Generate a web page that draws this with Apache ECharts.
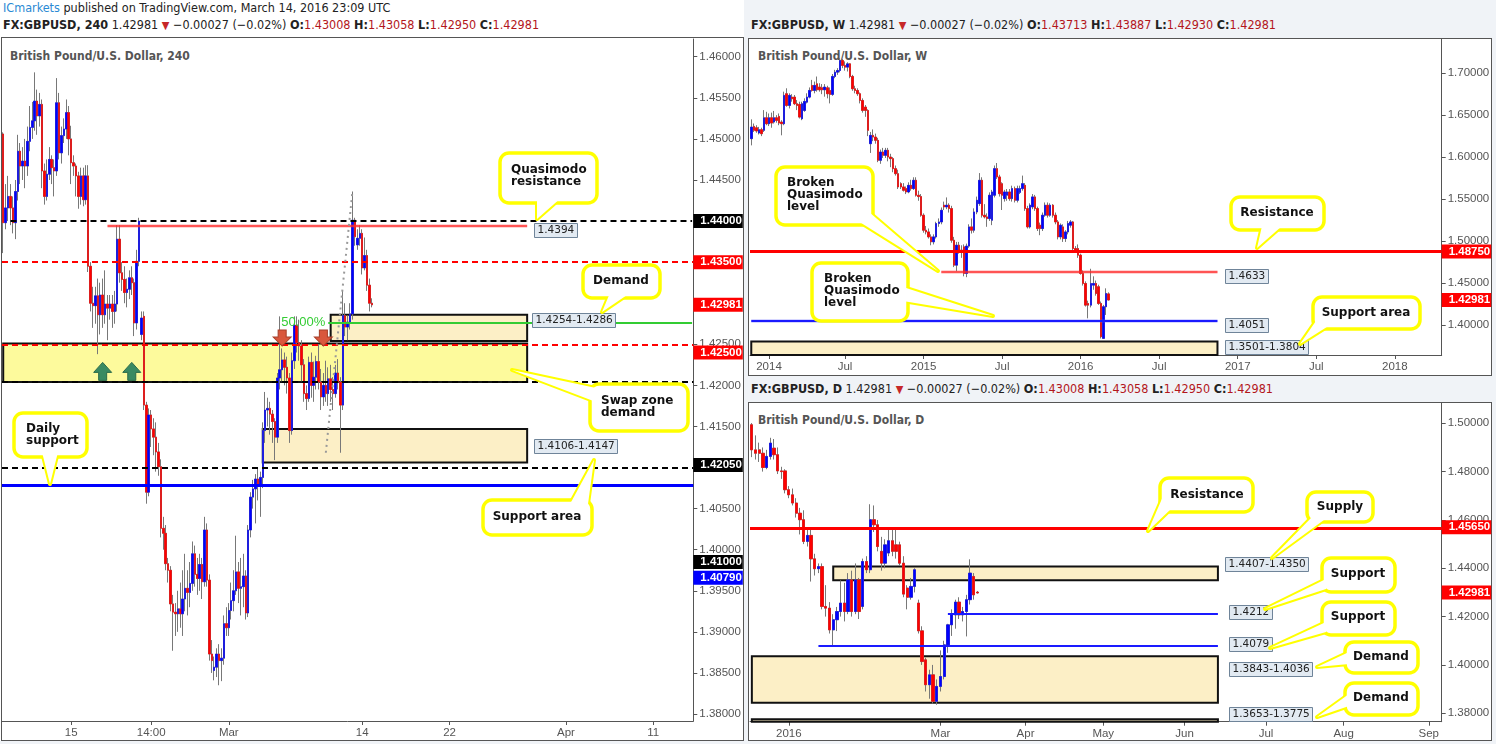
<!DOCTYPE html>
<html><head><meta charset="utf-8">
<script src="https://cdn.jsdelivr.net/npm/echarts@6/dist/echarts.min.js"></script>
<style>
html,body{margin:0;padding:0;background:#f0f3f7;width:1496px;height:744px;overflow:hidden;}
.abs{position:absolute;box-sizing:border-box;}
.hdr{position:absolute;white-space:nowrap;font-family:'Liberation Sans Narrow','DejaVu Sans Condensed',sans-serif;font-size:12.5px;color:#222;}
.hdr b{font-weight:bold;}
.v{color:#b3161b;}
.dn{color:#c62828;font-size:11px;}
.ttl{position:absolute;white-space:nowrap;font-family:'DejaVu Sans Condensed','DejaVu Sans',sans-serif;font-weight:bold;font-size:12px;color:#555;line-height:16px;}
#c{position:absolute;left:0;top:0;width:1496px;height:744px;}
</style>
</head><body>
<div class="abs" style="left:0;top:0;width:744px;height:741px;background:#fff;"></div>
<div class="abs" style="left:1px;top:37px;width:743px;height:704px;border:1px solid #555;"></div>
<div class="abs" style="left:748px;top:38px;width:744px;height:338px;background:#fff;border:1px solid #555;"></div>
<div class="abs" style="left:748px;top:402px;width:744px;height:339px;background:#fff;border:1px solid #555;"></div>

<div class="hdr" style="left:3px;top:0px;line-height:15px;"><span style="color:#2a8ad4">ICmarkets</span> published on TradingView.com, March 14, 2016 23:09 UTC</div>
<div class="hdr" style="left:3px;top:17px;line-height:16px;"><b>FX:GBPUSD, 240</b> 1.42981 <span class="dn">▼</span> −0.00027 (−0.02%) <b>O:</b><span class="v">1.43008</span> <b>H:</b><span class="v">1.43058</span> <b>L:</b><span class="v">1.42950</span> <b>C:</b><span class="v">1.42981</span></div>
<div class="hdr" style="left:751px;top:17px;line-height:16px;"><b>FX:GBPUSD, W</b> 1.42981 <span class="dn">▼</span> −0.00027 (−0.02%) <b>O:</b><span class="v">1.43713</span> <b>H:</b><span class="v">1.43887</span> <b>L:</b><span class="v">1.42930</span> <b>C:</b><span class="v">1.42981</span></div>
<div class="hdr" style="left:751px;top:381px;line-height:16px;"><b>FX:GBPUSD, D</b> 1.42981 <span class="dn">▼</span> −0.00027 (−0.02%) <b>O:</b><span class="v">1.43008</span> <b>H:</b><span class="v">1.43058</span> <b>L:</b><span class="v">1.42950</span> <b>C:</b><span class="v">1.42981</span></div>
<div class="ttl" style="left:10px;top:48px;">British Pound/U.S. Dollar, 240</div>
<div class="ttl" style="left:758px;top:48px;">British Pound/U.S. Dollar, W</div>
<div class="ttl" style="left:758px;top:412px;">British Pound/U.S. Dollar, D</div>
<div id="c"></div>
<script>
// ---------------- DATA ----------------
// candles: [open, close, low, high]
const H4_CANDLES = [
[1.4506,1.4398,1.4361,1.4508],[1.4398,1.4416,1.4390,1.4445],[1.4416,1.4430,1.4400,1.4455],[1.4430,1.4416,1.4395,1.4445],
[1.4416,1.4398,1.4385,1.4430],[1.4398,1.4436,1.4378,1.4450],[1.4436,1.4485,1.4425,1.4505],[1.4485,1.4467,1.4445,1.4495],
[1.4467,1.4473,1.4450,1.4490],[1.4473,1.4467,1.4440,1.4500],[1.4467,1.4497,1.4455,1.4515],[1.4497,1.4514,1.4485,1.4540],
[1.4514,1.4522,1.4500,1.4545],[1.4522,1.4546,1.4510,1.4581],[1.4546,1.4528,1.4505,1.4560],[1.4528,1.4542,1.4515,1.4556],
[1.4542,1.4461,1.4440,1.4548],[1.4461,1.4430,1.4420,1.4470],[1.4430,1.4457,1.4425,1.4475],[1.4457,1.4475,1.4450,1.4490],
[1.4475,1.4465,1.4445,1.4480],[1.4465,1.4461,1.4430,1.4475],[1.4461,1.4544,1.4455,1.4574],[1.4544,1.4483,1.4475,1.4556],
[1.4483,1.4504,1.4470,1.4515],[1.4504,1.4512,1.4495,1.4525],[1.4512,1.4532,1.4500,1.4548],[1.4532,1.4500,1.4480,1.4540],
[1.4500,1.4471,1.4445,1.4516],[1.4471,1.4467,1.4455,1.4480],[1.4467,1.4455,1.4430,1.4470],[1.4455,1.4430,1.4415,1.4460],
[1.4430,1.4455,1.4420,1.4465],[1.4455,1.4426,1.4418,1.4465],[1.4426,1.4455,1.4420,1.4468],[1.4455,1.4345,1.4338,1.4468],
[1.4345,1.4300,1.4290,1.4350],[1.4300,1.4297,1.4270,1.4320],[1.4297,1.4309,1.4275,1.4320],[1.4309,1.4286,1.4238,1.4330],
[1.4286,1.4310,1.4262,1.4325],[1.4310,1.4286,1.4270,1.4330],[1.4286,1.4299,1.4275,1.4340],[1.4299,1.4294,1.4255,1.4310],
[1.4294,1.4299,1.4280,1.4310],[1.4299,1.4290,1.4270,1.4310],[1.4290,1.4299,1.4275,1.4315],[1.4299,1.4378,1.4290,1.4395],
[1.4378,1.4337,1.4325,1.4395],[1.4337,1.4329,1.4315,1.4350],[1.4329,1.4313,1.4300,1.4345],[1.4313,1.4317,1.4295,1.4330],
[1.4317,1.4331,1.4305,1.4340],[1.4331,1.4325,1.4310,1.4345],[1.4325,1.4276,1.4260,1.4330],[1.4276,1.4351,1.4268,1.4365],
[1.4351,1.4400,1.4345,1.4404],[1.4262,1.4282,1.4255,1.4290],[1.4284,1.4176,1.4170,1.4290],[1.4176,1.4070,1.4056,1.4180],
[1.4070,1.4164,1.4065,1.4172],[1.4164,1.4147,1.4125,1.4170],[1.4147,1.4137,1.4115,1.4160],[1.4137,1.4119,1.4095,1.4155],
[1.4119,1.4101,1.4090,1.4130],[1.4101,1.4026,1.4015,1.4110],[1.4026,1.4020,1.4000,1.4040],[1.4020,1.3983,1.3975,1.4030],
[1.3983,1.3975,1.3960,1.3990],[1.3975,1.3934,1.3925,1.3980],[1.3934,1.3924,1.3877,1.3945],[1.3924,1.3922,1.3895,1.3935],
[1.3922,1.3928,1.3900,1.3950],[1.3928,1.3922,1.3905,1.3960],[1.3922,1.3940,1.3895,1.3975],[1.3940,1.3953,1.3925,1.3995],
[1.3953,1.3948,1.3920,1.3975],[1.3948,1.3959,1.3930,1.3985],[1.3959,1.3995,1.3950,1.4010],[1.3995,1.3970,1.3955,1.4005],
[1.3970,1.3965,1.3945,1.3990],[1.3965,1.3982,1.3950,1.3995],[1.3982,1.3961,1.3940,1.3990],[1.3961,1.4024,1.3955,1.4040],
[1.4024,1.3963,1.3955,1.4032],[1.3963,1.3873,1.3865,1.3970],[1.3873,1.3865,1.3850,1.3890],[1.3853,1.3857,1.3841,1.3870],
[1.3857,1.3873,1.3845,1.3880],[1.3873,1.3865,1.3835,1.3885],[1.3865,1.3868,1.3840,1.3880],[1.3868,1.3910,1.3860,1.3920],
[1.3910,1.3905,1.3895,1.3930],[1.3905,1.3926,1.3895,1.3935],[1.3926,1.3938,1.3915,1.3960],[1.3938,1.3950,1.3925,1.3975],
[1.3950,1.3973,1.3945,1.4017],[1.3973,1.3953,1.3935,1.3985],[1.3953,1.3955,1.3920,1.3990],[1.3955,1.3968,1.3930,1.3995],
[1.3968,1.3923,1.3915,1.3975],[1.3923,1.4024,1.3918,1.4030],[1.4024,1.4064,1.4015,1.4070],[1.4064,1.4074,1.4050,1.4085],
[1.4074,1.4086,1.4032,1.4092],[1.4086,1.4078,1.4060,1.4100],[1.4078,1.4088,1.4040,1.4095],[1.4088,1.4145,1.4075,1.4155],
[1.4145,1.4170,1.4130,1.4192],[1.4170,1.4172,1.4150,1.4185],[1.4172,1.4165,1.4140,1.4180],[1.4165,1.4156,1.4130,1.4170],
[1.4156,1.4137,1.4109,1.4160],[1.4137,1.4209,1.4130,1.4215],[1.4209,1.4219,1.4195,1.4284],[1.4219,1.4231,1.4205,1.4245],
[1.4231,1.4222,1.4200,1.4240],[1.4222,1.4209,1.4190,1.4235],[1.4209,1.4145,1.4130,1.4215],[1.4145,1.4230,1.4140,1.4240],
[1.4230,1.4273,1.4220,1.4284],[1.4273,1.4252,1.4240,1.4284],[1.4252,1.4248,1.4230,1.4280],[1.4248,1.4225,1.4205,1.4255],
[1.4225,1.4190,1.4180,1.4232],[1.4190,1.4184,1.4170,1.4200],[1.4184,1.4228,1.4180,1.4235],[1.4228,1.4200,1.4185,1.4240],
[1.4200,1.4210,1.4180,1.4229],[1.4210,1.4229,1.4195,1.4236],[1.4229,1.4204,1.4195,1.4250],[1.4204,1.4186,1.4170,1.4220],
[1.4186,1.4200,1.4175,1.4215],[1.4200,1.4190,1.4180,1.4230],[1.4190,1.4208,1.4175,1.4222],[1.4208,1.4195,1.4180,1.4225],
[1.4195,1.4190,1.4170,1.4210],[1.4190,1.4215,1.4185,1.4225],[1.4215,1.4204,1.4195,1.4232],[1.4204,1.4176,1.4118,1.4210],
[1.4176,1.4285,1.4170,1.4316],[1.4285,1.4271,1.4260,1.4300],[1.4271,1.4277,1.4255,1.4285],[1.4277,1.4287,1.4268,1.4300],
[1.4287,1.4401,1.4280,1.4436],[1.4401,1.4381,1.4370,1.4404],[1.4371,1.4379,1.4365,1.4390],[1.4379,1.4385,1.4370,1.4395],
[1.4385,1.4343,1.4335,1.4390],[1.4343,1.4358,1.4340,1.4380],[1.4358,1.4322,1.4315,1.4365],[1.4322,1.4300,1.4290,1.4330],
[1.4300,1.4298,1.4295,1.4306]
];
const W_CANDLES = [
[1.6220,1.6358,1.6140,1.6450],[1.6366,1.6319,1.6300,1.6400],[1.6350,1.6311,1.6290,1.6380],[1.6287,1.6327,1.6270,1.6360],
[1.6327,1.6279,1.6250,1.6350],[1.6319,1.6469,1.6300,1.6560],[1.6469,1.6398,1.6380,1.6540],[1.6398,1.6469,1.6370,1.6520],
[1.6469,1.6406,1.6350,1.6530],[1.6418,1.6469,1.6400,1.6550],[1.6469,1.6437,1.6410,1.6500],[1.6485,1.6406,1.6380,1.6520],
[1.6418,1.6398,1.6260,1.6440],[1.6398,1.6735,1.6380,1.6780],[1.6755,1.6616,1.6600,1.6820],[1.6616,1.6735,1.6580,1.6760],
[1.6715,1.6695,1.6660,1.6750],[1.6715,1.6636,1.6620,1.6740],[1.6636,1.6616,1.6560,1.6680],[1.6628,1.6477,1.6460,1.6660],
[1.6457,1.6636,1.6440,1.6660],[1.6556,1.6663,1.6540,1.6700],[1.6655,1.6715,1.6640,1.6760],[1.6715,1.6794,1.6700,1.6830],
[1.6854,1.6794,1.6780,1.6920],[1.6794,1.6854,1.6760,1.6900],[1.6873,1.6802,1.6780,1.6960],[1.6834,1.6802,1.6780,1.6880],
[1.6826,1.6802,1.6750,1.6870],[1.6802,1.6834,1.6720,1.6870],[1.6826,1.6755,1.6700,1.6850],[1.6794,1.6747,1.6640,1.6830],
[1.6747,1.6961,1.6730,1.6990],[1.6961,1.7012,1.6940,1.7040],[1.7012,1.7032,1.6980,1.7060],[1.7032,1.7151,1.7010,1.7180],
[1.7151,1.7092,1.7060,1.7170],[1.7092,1.7072,1.7030,1.7140],[1.7072,1.7111,1.7020,1.7130],[1.7111,1.6961,1.6940,1.7120],
[1.6961,1.6814,1.6790,1.6980],[1.6814,1.6794,1.6760,1.6850],[1.6794,1.6755,1.6730,1.6820],[1.6755,1.6675,1.6640,1.6770],
[1.6675,1.6556,1.6530,1.6700],[1.6596,1.6556,1.6480,1.6620],[1.6556,1.6319,1.6250,1.6570],[1.6160,1.6259,1.6050,1.6300],
[1.6259,1.6239,1.6190,1.6330],[1.6239,1.6200,1.6160,1.6280],[1.6200,1.5962,1.5940,1.6230],[1.5962,1.6061,1.5920,1.6090],
[1.6061,1.6021,1.5990,1.6110],[1.6021,1.6081,1.5990,1.6110],[1.6081,1.6001,1.5950,1.6110],[1.6001,1.5982,1.5880,1.6040],
[1.5982,1.5863,1.5820,1.6000],[1.5863,1.5803,1.5780,1.5900],[1.5803,1.5645,1.5620,1.5850],[1.5684,1.5645,1.5620,1.5700],
[1.5645,1.5605,1.5590,1.5690],[1.5625,1.5585,1.5560,1.5650],[1.5585,1.5664,1.5570,1.5700],[1.5664,1.5625,1.5600,1.5730],
[1.5625,1.5724,1.5610,1.5760],[1.5724,1.5546,1.5530,1.5760],[1.5546,1.5530,1.5480,1.5600],[1.5530,1.5308,1.5290,1.5560],
[1.5308,1.5129,1.5100,1.5330],[1.5129,1.5109,1.5080,1.5180],[1.5109,1.5050,1.5030,1.5150],[1.5050,1.4991,1.4950,1.5080],
[1.4991,1.5050,1.4960,1.5080],[1.5050,1.5209,1.5030,1.5230],[1.5209,1.5228,1.5170,1.5270],[1.5228,1.5367,1.5200,1.5400],
[1.5427,1.5407,1.5370,1.5470],[1.5407,1.5427,1.5380,1.5520],[1.5427,1.5387,1.5340,1.5450],[1.5387,1.5010,1.4980,1.5420],
[1.5010,1.4713,1.4690,1.5050],[1.4713,1.4951,1.4640,1.4990],[1.4951,1.4892,1.4850,1.4990],[1.4892,1.4872,1.4800,1.4950],
[1.4931,1.4614,1.4580,1.4960],[1.4614,1.4940,1.4570,1.4970],[1.4940,1.5169,1.4920,1.5200],[1.5169,1.5129,1.5090,1.5270],
[1.5129,1.5347,1.5100,1.5390],[1.5347,1.5486,1.5320,1.5530],[1.5447,1.5724,1.5420,1.5810],[1.5724,1.5308,1.5280,1.5760],
[1.5308,1.5288,1.5270,1.5440],[1.5288,1.5268,1.5170,1.5330],[1.5268,1.5546,1.5240,1.5580],[1.5248,1.5585,1.5190,1.5610],
[1.5546,1.5863,1.5520,1.5900],[1.5863,1.5764,1.5740,1.5930],[1.5764,1.5565,1.5530,1.5790],[1.5684,1.5546,1.5370,1.5700],
[1.5506,1.5585,1.5470,1.5610],[1.5546,1.5585,1.5480,1.5620],[1.5585,1.5506,1.5480,1.5620],[1.5506,1.5625,1.5470,1.5660],
[1.5625,1.5486,1.5460,1.5650],[1.5486,1.5625,1.5460,1.5660],[1.5580,1.5625,1.5560,1.5660],[1.5625,1.5684,1.5600,1.5780],
[1.5664,1.5387,1.5360,1.5690],[1.5387,1.5169,1.5150,1.5420],[1.5169,1.5427,1.5150,1.5450],[1.5407,1.5526,1.5380,1.5560],
[1.5526,1.5387,1.5360,1.5550],[1.5387,1.5149,1.5120,1.5410],[1.5189,1.5149,1.5070,1.5220],[1.5149,1.5308,1.5120,1.5340],
[1.5308,1.5427,1.5290,1.5460],[1.5427,1.5308,1.5280,1.5460],[1.5308,1.5427,1.5290,1.5450],[1.5427,1.5308,1.5280,1.5440],
[1.5308,1.5228,1.5200,1.5340],[1.5228,1.5050,1.5020,1.5250],[1.5050,1.5189,1.5020,1.5210],[1.5169,1.5030,1.4990,1.5200],
[1.5030,1.5109,1.4990,1.5130],[1.5109,1.5209,1.5080,1.5240],[1.5189,1.5228,1.5160,1.5250],[1.5228,1.4911,1.4890,1.5240],
[1.4911,1.4872,1.4860,1.4940],[1.4911,1.4832,1.4800,1.4960],[1.4832,1.4614,1.4600,1.4850],[1.4614,1.4495,1.4470,1.4650],
[1.4495,1.4237,1.4220,1.4520],[1.4257,1.4237,1.4080,1.4290],[1.4237,1.4495,1.4210,1.4670],[1.4475,1.4495,1.4420,1.4580],
[1.4495,1.4376,1.4350,1.4530],[1.4456,1.4257,1.4240,1.4480],[1.4257,1.3861,1.3840,1.4280],[1.3841,1.4218,1.3835,1.4240],
[1.4218,1.4376,1.4120,1.4437],[1.4371,1.4298,1.4293,1.4389]
];
const D_CANDLES = [
[1.4994,1.4890,1.4860,1.5001],[1.4890,1.4876,1.4850,1.4950],[1.4890,1.4876,1.4840,1.4920],[1.4876,1.4817,1.4800,1.4900],
[1.4817,1.4863,1.4810,1.4890],[1.4863,1.4918,1.4850,1.4940],[1.4897,1.4870,1.4850,1.4935],[1.4870,1.4803,1.4790,1.4900],
[1.4803,1.4800,1.4770,1.4820],[1.4803,1.4725,1.4710,1.4810],[1.4725,1.4704,1.4690,1.4740],[1.4704,1.4670,1.4660,1.4730],
[1.4670,1.4628,1.4610,1.4690],[1.4628,1.4601,1.4540,1.4650],[1.4601,1.4511,1.4500,1.4640],[1.4511,1.4536,1.4490,1.4570],
[1.4536,1.4439,1.4345,1.4560],[1.4439,1.4398,1.4370,1.4460],[1.4398,1.4407,1.4380,1.4420],[1.4407,1.4242,1.4230,1.4420],
[1.4242,1.4235,1.4200,1.4330],[1.4235,1.4145,1.4130,1.4260],[1.4145,1.4187,1.4076,1.4210],[1.4187,1.4221,1.4140,1.4240],
[1.4221,1.4256,1.4200,1.4350],[1.4256,1.4221,1.4180,1.4340],[1.4221,1.4352,1.4210,1.4380],[1.4352,1.4221,1.4200,1.4390],
[1.4221,1.4352,1.4210,1.4420],[1.4352,1.4221,1.4190,1.4360],[1.4242,1.4428,1.4230,1.4440],[1.4428,1.4394,1.4380,1.4450],
[1.4394,1.4601,1.4380,1.4665],[1.4601,1.4580,1.4550,1.4660],[1.4580,1.4490,1.4470,1.4600],[1.4470,1.4421,1.4390,1.4530],
[1.4421,1.4497,1.4400,1.4520],[1.4463,1.4514,1.4450,1.4560],[1.4514,1.4470,1.4450,1.4570],[1.4497,1.4470,1.4440,1.4560],
[1.4497,1.4421,1.4410,1.4510],[1.4421,1.4293,1.4280,1.4450],[1.4318,1.4280,1.4230,1.4330],[1.4280,1.4325,1.4270,1.4360],
[1.4325,1.4394,1.4300,1.4400],[1.4256,1.4141,1.4130,1.4270],[1.4141,1.4014,1.4000,1.4160],[1.4021,1.3918,1.3890,1.4030],
[1.3918,1.3959,1.3860,1.3980],[1.3959,1.3849,1.3840,1.4000],[1.3849,1.3911,1.3835,1.3940],[1.3911,1.3952,1.3890,1.4060],
[1.3952,1.4083,1.3940,1.4100],[1.4083,1.4166,1.4050,1.4170],[1.4166,1.4207,1.4120,1.4230],[1.4207,1.4260,1.4150,1.4270],
[1.4260,1.4207,1.4190,1.4280],[1.4207,1.4221,1.4180,1.4240],[1.4221,1.4270,1.4118,1.4290],[1.4270,1.4380,1.4250,1.4437],
[1.4366,1.4290,1.4270,1.4380],[1.4301,1.4298,1.4295,1.4306]
];
// number of bar slots on each time axis (history + empty future)
const H4_SLOTS = 285, W_SLOTS = 273, D_SLOTS = 187;
// x tick labels: [slot index, text]
const H4_XTICKS = [[28,'15'],[61,'14:00'],[93,'Mar'],[148,'14'],[184,'22'],[232,'Apr'],[268,'11']];
const W_XTICKS = [[7,'2014'],[37,'Jul'],[68,'2015'],[99,'Jul'],[130,'2016'],[161,'Jul'],[192,'2017'],[223,'Jul'],[254,'2018']];
const D_XTICKS = [[10,'2016'],[51,'Mar'],[74,'Apr'],[95,'May'],[117,'Jun'],[139,'Jul'],[160,'Aug'],[183,'Sep']];
// price tick labels
const H4_YTICKS = [1.38,1.385,1.39,1.395,1.40,1.405,1.41,1.415,1.42,1.425,1.43,1.435,1.44,1.445,1.45,1.455,1.46];
const W_YTICKS = [1.40,1.45,1.50,1.55,1.60,1.65,1.70];
const D_YTICKS = [1.38,1.40,1.42,1.44,1.46,1.48,1.50];
const H4_RANGE = [1.37915, 1.46216], W_RANGE = [1.3643, 1.7413], D_RANGE = [1.3765, 1.5084];
// horizontal levels: [price, fromSlot|null, toSlot|null, style]
const H4_LEVELS = [
  [1.4400, 3, null, 'blackDash'], [1.4350, null, null, 'redDash'], [1.4250, null, null, 'redDash'],
  [1.4205, null, null, 'blackDash'], [1.4100, null, null, 'blackDash'], [1.4079, null, null, 'blueThick'],
  [1.4394, 43, 216, 'redHalo'], [1.42766, 134, null, 'green']
];
const W_LEVELS = [[1.4875, null, null, 'redThick'], [1.4633, 75, 184, 'redHalo'], [1.4051, 0, 184, 'blueHalo']];
const D_LEVELS = [[1.4565, null, null, 'redThick'], [1.4212, 53, 126, 'blue2'], [1.4079, 18, 126, 'blue2']];
// zones: [top, bottom, fromSlot, toSlot, fill]
const H4_ZONES = [[1.4251, 1.4204, 0, 216, 'yellow'], [1.4286, 1.4254, 135, 216, 'tan'], [1.4147, 1.4106, 107, 216, 'tan']];
const W_ZONES = [[1.3804, 1.3501, 0, 184, 'tan']];
const D_ZONES = [[1.4407, 1.4350, 22, 126, 'tan'], [1.4036, 1.3843, 0, 126, 'tan'], [1.3775, 1.3653, 0, 126, 'tan']];
// price tags on the axes: [text, price, colour]
const H4_TAGS = [['1.44000',1.4400,'#000'],['1.43500',1.4350,'#ff0000'],['1.42981',1.42981,'#ff0000'],['1.42500',1.4240,'#ff0000'],
                 ['1.42050',1.4103,'#000'],['1.41000',1.3985,'#000'],['1.40790',1.3966,'#0000ff']];
const W_TAGS = [['1.48750',1.4875,'#ff0000'],['1.42981',1.42981,'#ff0000']];
const D_TAGS = [['1.45650',1.4570,'#ff0000'],['1.42981',1.4300,'#ff0000']];
// level labels: [text, slot, price]
const H4_LABELS = [['1.4394',219,1.4389],['1.4254-1.4286',218,1.4279],['1.4106-1.4147',219,1.4126]];
const W_LABELS = [['1.4633',187,1.4583],['1.4051',187,1.3999],['1.3501-1.3804',187,1.3738]];
const D_LABELS = [['1.4407-1.4350',128,1.4418],['1.4212',129,1.4219],['1.4079',129,1.4087],['1.3843-1.4036',129,1.3983],['1.3653-1.3775',129,1.3797]];
// arrows: [slot, tip price]
const H4_ARROWS_DOWN = [[115,1.4248],[132,1.4248]];
const H4_ARROWS_UP = [[41,1.4228],[53,1.4228]];
const H4_FIB = [[133,1.4118],[144,1.4437]];

// ---------------- STYLES ----------------
const AX = "'Liberation Sans', Arial, sans-serif";
const LS = {
  blackDash:[{color:'#000',width:2,type:[6,4]}],
  redDash:[{color:'#ff0000',width:2,type:[6,4]}],
  blueThick:[{color:'#0000ff',width:3,type:'solid'}],
  redHalo:[{color:'rgba(255,60,60,0.22)',width:4,type:'solid'},{color:'#ff2a2a',width:1.5,type:'solid'}],
  blueHalo:[{color:'rgba(90,90,255,0.25)',width:4,type:'solid'},{color:'#1a1aff',width:2,type:'solid'}],
  redThick:[{color:'#ff0000',width:3,type:'solid'}],
  blue2:[{color:'#1a1aff',width:2,type:'solid'}],
  green:[{color:'#33cc33',width:2,type:'solid'}]
};
const FILL = {yellow:'#fdfa9c', tan:'#fcefc6'};

function cats(n){ return Array.from({length:n}, (_, i) => 'c' + i); }
function xAx(g, n, ticks){
  const m = new Map(ticks);
  return {type:'category', gridIndex:g, data:cats(n), boundaryGap:true,
    axisLine:{show:true, lineStyle:{color:'#555', width:1}},
    axisTick:{show:true, alignWithLabel:true, interval:(i)=>m.has(i), length:4, lineStyle:{color:'#555'}},
    axisLabel:{show:true, interval:(i)=>m.has(i), formatter:(v,i)=>m.get(i)||'', color:'#555', fontSize:11.5, fontFamily:AX, margin:6},
    splitLine:{show:false}, axisPointer:{show:false}};
}
function yAx(g, range, ticks){
  return {type:'value', gridIndex:g, position:'right', min:range[0], max:range[1], scale:true,
    axisLine:{show:true, lineStyle:{color:'#555', width:1}},
    axisTick:{show:true, length:4, customValues:ticks, lineStyle:{color:'#555'}},
    axisLabel:{show:true, customValues:ticks, formatter:(v)=>Number(v).toFixed(5), color:'#555', fontSize:11.5, fontFamily:AX, margin:6},
    splitLine:{show:false}, axisPointer:{show:false}};
}
function levelItems(levels, n){
  const out = [];
  levels.forEach(([p, a, b, st]) => {
    LS[st].forEach((ls, k) => {
      const extra = {};
      if (st === 'green' && k === 0) extra.label = {show:true, position:'start', formatter:'50.00%', color:'#33cc33', fontSize:13, fontFamily:AX, distance:3};
      if (a == null && b == null) out.push(Object.assign({yAxis:p, lineStyle:ls}, extra));
      else out.push([Object.assign({coord:[a == null ? 0 : a, p], lineStyle:ls}, extra), {coord:[b == null ? n - 1 : b, p]}]);
    });
  });
  return out;
}
function zoneItems(zones, range){
  return zones.map(([t, btm, a, b, f]) => [
    {coord:[a, Math.min(t, range[1])], itemStyle:{color:FILL[f], opacity:1, borderColor:'#111', borderWidth:2}},
    {coord:[b, Math.max(btm, range[0])]}]);
}
function candleSeries(g, data, bw){
  const bodies = data.map(([o, c]) => [o, c, Math.min(o, c), Math.max(o, c)]);
  const gray = '#787878';
  return [
    {type:'candlestick', xAxisIndex:g, yAxisIndex:g, data:data, barWidth:bw, z:3, silent:true, large:false,
      itemStyle:{color:gray, color0:gray, borderColor:gray, borderColor0:gray, borderColorDoji:gray, borderWidth:1}},
    {type:'candlestick', xAxisIndex:g, yAxisIndex:g, data:bodies, barWidth:bw, z:4, silent:true, large:false,
      itemStyle:{color:'#0000ff', color0:'#ff0000', borderColor:'#0000ff', borderColor0:'#ff0000', borderColorDoji:'#ff0000', borderWidth:0.5}}
  ];
}
function markerSeries(g, zones, levels, range, n){
  return [
    {type:'line', xAxisIndex:g, yAxisIndex:g, data:[], z:1, silent:true,
      markArea:{silent:true, data:zoneItems(zones, range)}},
    {type:'line', xAxisIndex:g, yAxisIndex:g, data:[], z:2, silent:true,
      markLine:{silent:true, precision:6, symbol:['none','none'], label:{show:false}, emphasis:{disabled:true},
        lineStyle:{type:'solid'}, data:levelItems(levels, n)}}
  ];
}

const grids = [
  {left:2, top:39, width:691.3, height:682, containLabel:false, outerBoundsMode:'none'},
  {left:750, top:38.5, width:691.7, height:316.5, containLabel:false, outerBoundsMode:'none'},
  {left:750, top:403, width:691.7, height:318.7, containLabel:false, outerBoundsMode:'none'}
];
const series = [].concat(
  markerSeries(0, H4_ZONES, H4_LEVELS, H4_RANGE, H4_SLOTS),
  markerSeries(1, W_ZONES, W_LEVELS, W_RANGE, W_SLOTS),
  markerSeries(2, D_ZONES, D_LEVELS, D_RANGE, D_SLOTS),
  candleSeries(0, H4_CANDLES, 2),
  candleSeries(1, W_CANDLES, 2),
  candleSeries(2, D_CANDLES, 2.8),
  [{type:'line', xAxisIndex:0, yAxisIndex:0, data:H4_FIB, z:5, silent:true, symbol:'none',
     lineStyle:{color:'#999', width:2, type:[2,4]}},
   {type:'line', xAxisIndex:0, yAxisIndex:0, data:[], z:6, silent:true,
     markPoint:{silent:true, label:{show:false}, data:[].concat(
       H4_ARROWS_DOWN.map(([x, p]) => ({coord:[x, p], symbol:'path://M5,0 L13,0 L13,8 L18,8 L9,18 L0,8 L5,8 Z', symbolSize:[18,16], symbolOffset:[0,'-50%'],
         itemStyle:{color:'#d9573d', borderColor:'#a8402b', borderWidth:1}})),
       H4_ARROWS_UP.map(([x, p]) => ({coord:[x, p], symbol:'path://M9,0 L18,10 L13,10 L13,18 L5,18 L5,10 L0,10 Z', symbolSize:[18,18], symbolOffset:[0,'50%'],
         itemStyle:{color:'#3a8a62', borderColor:'#2b6a4a', borderWidth:1}})))}}]
);

const chart = echarts.init(document.getElementById('c'), null, {renderer:'canvas'});
chart.setOption({
  animation:false, backgroundColor:'transparent',
  grid:grids,
  xAxis:[xAx(0, H4_SLOTS, H4_XTICKS), xAx(1, W_SLOTS, W_XTICKS), xAx(2, D_SLOTS, D_XTICKS)],
  yAxis:[yAx(0, H4_RANGE, H4_YTICKS), yAx(1, W_RANGE, W_YTICKS), yAx(2, D_RANGE, D_YTICKS)],
  series:series
});

// ---------------- overlays positioned through the chart's scales ----------------
const G = [];
const mctx = document.createElement('canvas').getContext('2d');
function tw(text, font){ mctx.font = font; return mctx.measureText(text).width; }
const AXIS_X = [693.3, 1441.7, 1441.7];
function addTags(axis, tags){
  tags.forEach(([t, p, col]) => {
    const y = chart.convertToPixel({yAxisIndex:axis}, p);
    G.push({type:'rect', z:60, shape:{x:AXIS_X[axis], y:y - 7, width:49.5, height:14}, style:{fill:col}});
    G.push({type:'text', z:61, x:AXIS_X[axis] + 7, y:y, style:{text:t, fill:'#fff', font:"bold 11.5px 'Liberation Sans', Arial, sans-serif", align:'left', verticalAlign:'middle'}});
  });
}
function addLabels(g, labels){
  const font = "10.5px 'DejaVu Sans', sans-serif";
  labels.forEach(([t, s, p]) => {
    const pt = chart.convertToPixel({gridIndex:g}, [s, p]);
    const w = tw(t, font) + 6;
    G.push({type:'rect', z:40, shape:{x:Math.round(pt[0]) + 0.5, y:Math.round(pt[1] - 7) + 0.5, width:Math.round(w), height:14}, style:{fill:'#e2eaf2', stroke:'#6f8499', lineWidth:1}});
    G.push({type:'text', z:41, x:Math.round(pt[0]) + 3.5, y:Math.round(pt[1]) + 0.5, style:{text:t, fill:'#222', font:font, align:'left', verticalAlign:'middle'}});
  });
}
function callout(box, lines, tail, align, tx, ty){
  const [x, y, w, h] = box;
  G.push({type:'polygon', z:50, shape:{points:tail}, style:{fill:'#fff', stroke:'#ffff00', lineWidth:4, lineJoin:'round'}});
  G.push({type:'rect', z:51, shape:{x:x, y:y, width:w, height:h, r:9}, style:{fill:'#fff', stroke:'#ffff00', lineWidth:3.5}});
  G.push({type:'polygon', z:52, shape:{points:tail}, style:{fill:'#fff'}});
  G.push({type:'text', z:53, x:tx, y:ty, style:{text:lines.join('\n'), fill:'#111', font:"bold 12px 'DejaVu Sans', sans-serif", lineHeight:12, align:align, verticalAlign:'middle'}});
}
addTags(0, H4_TAGS); addTags(1, W_TAGS); addTags(2, D_TAGS);
addLabels(0, H4_LABELS); addLabels(1, W_LABELS); addLabels(2, D_LABELS);
// callouts (annotation boxes)
callout([500,153,97,50], ['Quasimodo','resistance'], [[537,197],[562,197],[537,219]], 'left', 511, 176);
callout([583,265,77,33], ['Demand'], [[610,293],[630,293],[602,312]], 'center', 621, 281);
callout([590,384,98,47], ['Swap zone','demand'], [[596,388],[596,402],[512,370]], 'left', 601, 407);
callout([483,500,109,35], ['Support area'], [[570,504],[588,504],[594,460]], 'center', 537, 517);
callout([14,413,73,44], ['Daily','support'], [[42,452],[58,452],[50,484]], 'left', 26, 435);
callout([776,167,97,58], ['Broken','Quasimodo','level'], [[858,221],[869,212],[938,271]], 'left', 787, 195);
callout([812,263,96,58], ['Broken','Quasimodo','level'], [[903,287],[903,301],[993,316]], 'left', 824, 291);
callout([1231,197,93,33], ['Resistance'], [[1262,226],[1282,226],[1257,248]], 'center', 1277, 213);
callout([1313,297,107,32], ['Support area'], [[1318,318],[1330,325],[1300,344]], 'center', 1366, 313);
callout([1160,478,93,34], ['Resistance'], [[1164,494],[1172,508],[1148,531]], 'center', 1207, 495);
callout([1307,492,66,30], ['Supply'], [[1312,517],[1328,517],[1272,558]], 'center', 1340, 507);
callout([1322,558,73,34], ['Support'], [[1326,579],[1326,589],[1265,609]], 'center', 1358, 574);
callout([1322,602,73,33], ['Support'], [[1326,622],[1326,632],[1270,648]], 'center', 1358, 617);
callout([1345,642,73,31], ['Demand'], [[1349,652],[1349,664],[1317,667]], 'center', 1381, 657);
callout([1345,683,73,32], ['Demand'], [[1349,694],[1349,706],[1317,717]], 'center', 1381, 698);
chart.setOption({graphic:G});
</script>
</body></html>
